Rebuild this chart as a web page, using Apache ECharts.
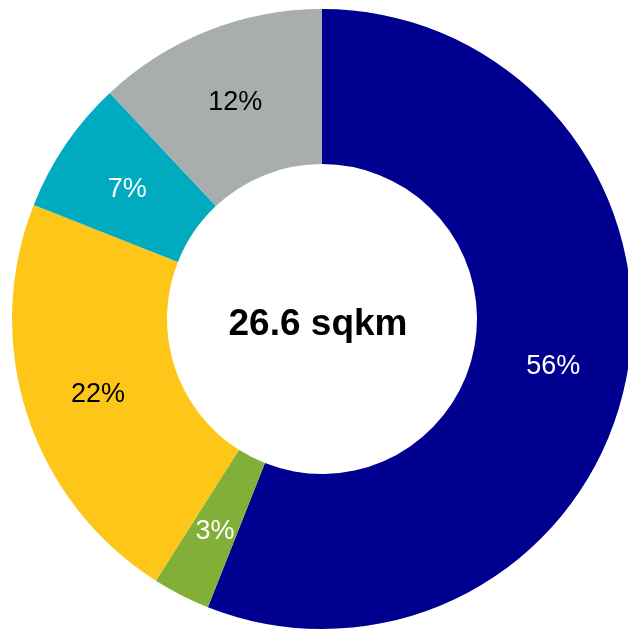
<!DOCTYPE html>
<html>
<head>
<meta charset="utf-8">
<script src="https://cdn.jsdelivr.net/npm/echarts@6/dist/echarts.min.js"></script>
<style>
  html, body { margin: 0; padding: 0; background: #fff; }
  #chart { width: 628px; height: 629px; }
</style>
</head>
<body>
<div id="chart"></div>
<script>
// slices, clockwise from 12 o'clock
const categories = ['A', 'B', 'C', 'D', 'E'];
const shares = [56, 3, 22, 7, 12];
const sliceColors = ['#000090', '#82AF37', '#FFC61A', '#00AABF', '#A8AEAE'];
const labelColors = ['#fff', '#fff', '#000', '#fff', '#000'];
const centerLabel = '26.6 sqkm';

const chart = echarts.init(document.getElementById('chart'));

const pieData = categories.map((name, i) => ({
  name,
  value: shares[i],
  itemStyle: { color: sliceColors[i] },
  label: { color: labelColors[i] }
}));

chart.setOption({
  animation: false,
  graphic: [{
    type: 'text',
    x: 318,
    y: 325,
    style: {
      text: centerLabel,
      align: 'center',
      verticalAlign: 'middle',
      fill: '#000',
      font: 'bold 37px "Liberation Sans", Arial, sans-serif'
    }
  }],
  series: [{
    type: 'pie',
    center: [322, 319],
    radius: [155, 310],
    startAngle: 90,
    clockwise: true,
    avoidLabelOverlap: false,
    itemStyle: { borderWidth: 0 },
    label: {
      show: true,
      position: 'inside',
      formatter: '{c}%',
      fontSize: 27,
      offset: [0, 3],
      fontFamily: '"Liberation Sans", Arial, sans-serif'
    },
    labelLine: { show: false },
    emphasis: { disabled: true },
    data: pieData
  }]
});
</script>
</body>
</html>
